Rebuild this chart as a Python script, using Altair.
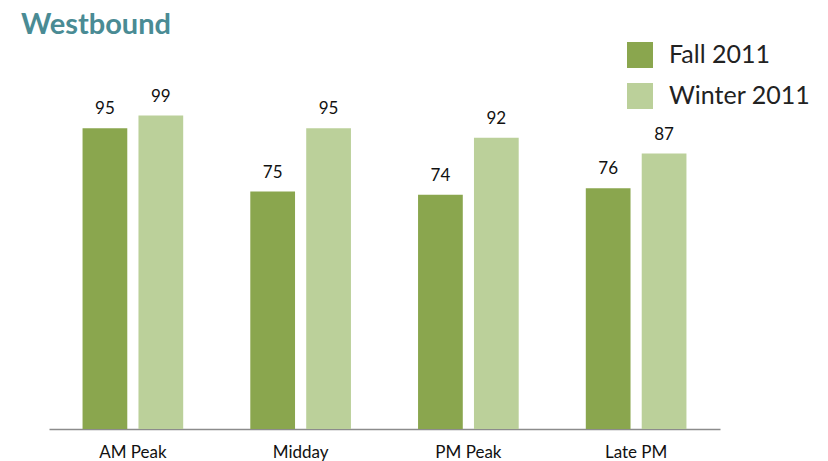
import altair as alt
import pandas as pd

periods = ["AM Peak", "Midday", "PM Peak", "Late PM"]
series = ["Fall 2011", "Winter 2011"]
fall_2011 = [95, 75, 74, 76]
winter_2011 = [99, 95, 92, 87]
colors = ["#8AA64E", "#BBD09A"]

rows = []
for i, p in enumerate(periods):
    rows.append({"period": p, "series": series[0], "value": fall_2011[i]})
    rows.append({"period": p, "series": series[1], "value": winter_2011[i]})
df = pd.DataFrame(rows)

FONT = "Lato"

x = alt.X("period:N", sort=periods, title=None,
          scale=alt.Scale(paddingInner=0.4, paddingOuter=0.2),
          axis=alt.Axis(labelAngle=0, labelFontSize=17, labelFont=FONT, labelColor="#111",
                        ticks=False, domainColor="#8c8c8c", domainWidth=1.3, labelPadding=15))
xo = alt.XOffset("series:N", sort=series, scale=alt.Scale(paddingInner=0.2, paddingOuter=0))
y = alt.Y("value:Q", scale=alt.Scale(domain=[0, 120]), axis=None)

bars = alt.Chart(df).mark_bar().encode(
    x=x, xOffset=xo, y=y,
    color=alt.Color("series:N", sort=series,
                    scale=alt.Scale(domain=series, range=colors),
                    legend=alt.Legend(title=None, orient="none", legendX=578, legendY=-7,
                                      symbolType="square", symbolSize=676, symbolStrokeWidth=0,
                                      labelFontSize=25, labelFont=FONT, labelColor="#222",
                                      labelOffset=16, rowPadding=15)),
)

labels = alt.Chart(df).mark_text(baseline="alphabetic", dy=-14, fontSize=17, font=FONT,
                                 color="#111").encode(
    x=x, xOffset=xo, y=y, text="value:Q"
)

chart = alt.layer(bars, labels).properties(
    width=671, height=380,
    title=alt.Title("Westbound", anchor="start", frame="group", dx=-28, dy=2,
                    fontSize=29, font=FONT, fontWeight="bold",
                    color="#4A8B94"),
    autosize=alt.AutoSizeParams(type="none"),
    padding={"left": 41, "top": 41, "right": 100, "bottom": 40},
).configure_view(stroke=None)

chart.save("out.html", embed_options={"renderer": "svg", "actions": False})
